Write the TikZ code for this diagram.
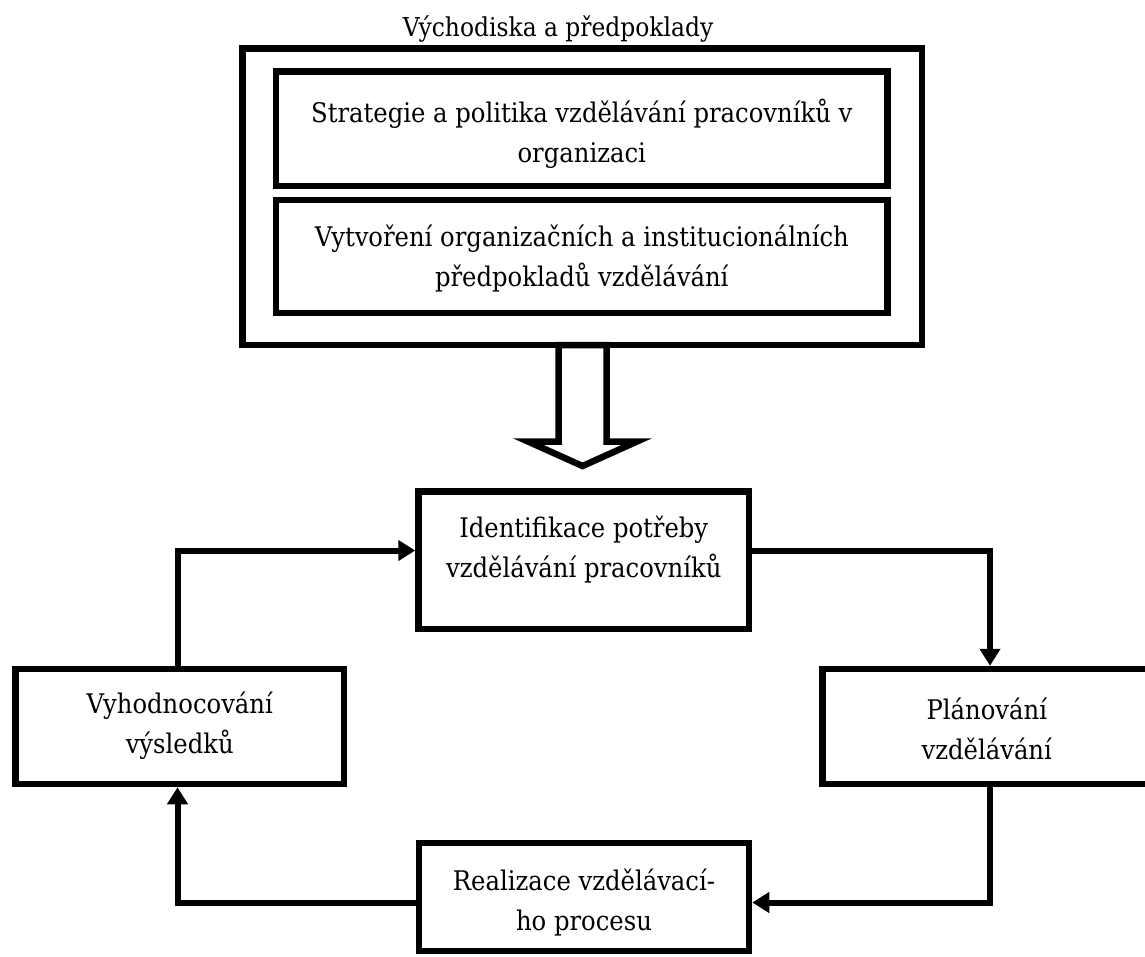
\documentclass[tikz,border=0pt]{standalone}
\usepackage{fontspec}
\setmainfont{DejaVu Serif Condensed}
\usetikzlibrary{arrows.meta}
\begin{document}
\begin{tikzpicture}[x=1pt,y=-1pt,
  box/.style={draw=black, line width=6.5pt, fill=white, inner sep=0pt},
  txt/.style={align=center, font={\fontsize{27}{40}\selectfont}, inner sep=0pt},
  conn/.style={line width=6pt, line join=miter, -{Triangle[length=17pt,width=20pt]}},
  hollow/.style={draw=black, line width=6.5pt, fill=white, line join=miter}
  ]
\useasboundingbox (0,0) rectangle (1145,956);
\clip (0,0) rectangle (1145,956);

% top group
\node[txt, anchor=base, font={\fontsize{26}{40}\selectfont}] (title) at (558,36) {Východiska a předpoklady};
\node[box, minimum width=679.5pt, minimum height=296.5pt] (outer) at (582.25,196.75) {};
\node[box, minimum width=611.5pt, minimum height=114.5pt] (strat) at (581.75,128.75) {};
\node[txt] (stratT) at (581.75,134) {Strategie a politika vzdělávání pracovníků v\\organizaci};
\node[box, minimum width=611.5pt, minimum height=113pt] (vytv) at (581.75,256.5) {};
\node[txt] (vytvT) at (581.75,259) {Vytvoření organizačních a institucionálních\\předpokladů vzdělávání};

% hollow arrow
\draw[hollow] (558.5,345) -- (558.5,441.5) -- (528,441.5) -- (582.5,466)
  -- (637,441.5) -- (606.5,441.5) -- (606.5,345) -- cycle;

% cycle boxes
\node[box, minimum width=330.5pt, minimum height=137.5pt] (ident) at (583.75,560.25) {};
\node[txt] (identT) at (583.75,550) {Identifikace potřeby\\vzdělávání pracovníků};
\node[box, minimum width=328.5pt, minimum height=115pt] (plan) at (986.75,726.5) {};
\node[txt] (planT) at (986.75,729) {Plánování\\vzdělávání};
\node[box, minimum width=328.5pt, minimum height=115pt] (vyh) at (179.75,726.5) {};
\node[txt] (vyhT) at (179.75,726) {Vyhodnocování\\výsledků};
\node[box, minimum width=330pt, minimum height=108pt] (real) at (584,897) {};
\node[txt] (realT) at (584,902) {Realizace vzdělávací-\\ho procesu};

% connectors
\coordinate (yTop) at (0,550.5);
\coordinate (yBot) at (0,902.5);
\coordinate (xL) at (177.5,0);
\coordinate (xR) at (990,0);
\draw[conn] (vyh.north -| xL) |- (ident.west |- yTop);
\draw[conn] (ident.east |- yTop) -| (plan.north -| xR);
\draw[conn] (plan.south -| xR) |- (real.east |- yBot);
\draw[conn] (real.west |- yBot) -| (vyh.south -| xL);
\end{tikzpicture}
\end{document}
